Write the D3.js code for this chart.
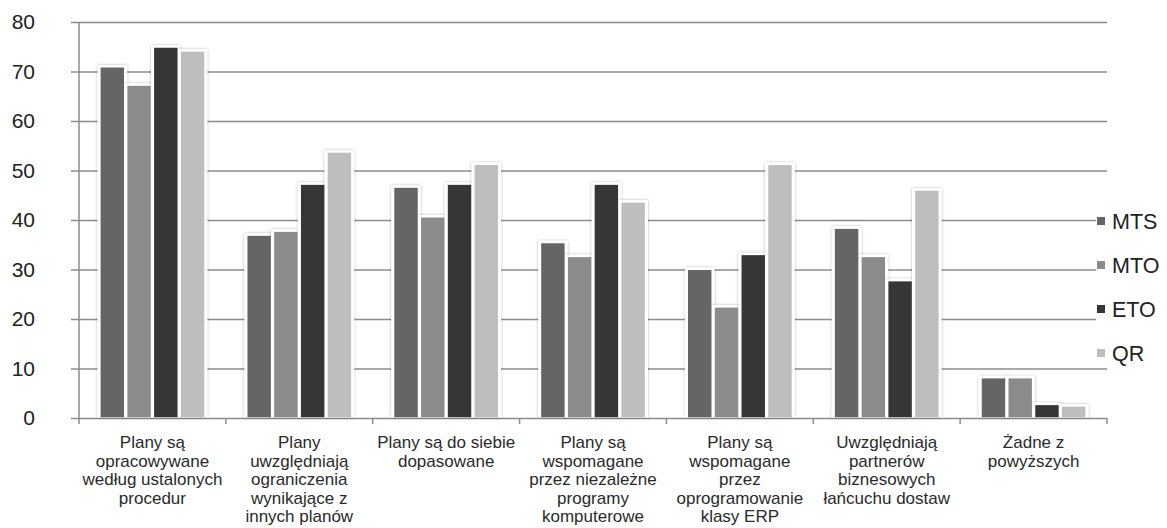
<!DOCTYPE html>
<html>
<head>
<meta charset="utf-8">
<script src="https://cdn.jsdelivr.net/npm/d3@7/dist/d3.min.js"></script>
<style>
  html, body { margin: 0; padding: 0; background: #fff; }
  svg { display: block; font-family: "Liberation Sans", Arial, sans-serif; }
</style>
</head>
<body>
<svg id="chart" width="1167" height="528"></svg>
<script>
// Category labels, already broken into lines
const categories = [
  ["Plany są", "opracowywane", "według ustalonych", "procedur"],
  ["Plany", "uwzględniają", "ograniczenia", "wynikające z", "innych planów"],
  ["Plany są do siebie", "dopasowane"],
  ["Plany są", "wspomagane", "przez niezależne", "programy", "komputerowe"],
  ["Plany są", "wspomagane", "przez", "oprogramowanie", "klasy ERP"],
  ["Uwzględniają", "partnerów", "biznesowych", "łańcuchu dostaw"],
  ["Żadne z", "powyższych"]
];

const seriesNames = ["MTS", "MTO", "ETO", "QR"];

const MTS = [70.8, 36.8, 46.5, 35.3, 29.9, 38.2, 8.0];
const MTO = [67.1, 37.6, 40.5, 32.5, 22.3, 32.5, 8.0];
const ETO = [74.8, 47.1, 47.1, 47.1, 32.9, 27.6, 2.6];
const QR  = [74.0, 53.6, 51.1, 43.5, 51.1, 45.9, 2.3];

const yTicks = [0, 10, 20, 30, 40, 50, 60, 70, 80];

const seriesValues = [MTS, MTO, ETO, QR];
const colors = ["#656565", "#8b8b8b", "#363636", "#bebebe"];

const svg = d3.select("#chart");

const plot = { left: 79, right: 1107, top: 22, bottom: 418 };

const y = d3.scaleLinear().domain([0, 80]).range([plot.bottom, plot.top]);
const x0 = d3.scaleBand()
  .domain(d3.range(categories.length))
  .range([plot.left, plot.right])
  .padding(0);
const x1 = d3.scaleBand()
  .domain(seriesNames)
  .range([21, x0.bandwidth() - 21])
  .paddingInner(0.08);

// Soft grey halo behind each bar
const defs = svg.append("defs");
const f = defs.append("filter").attr("id", "glow")
  .attr("x", "-40%").attr("y", "-10%").attr("width", "180%").attr("height", "120%");
f.append("feGaussianBlur").attr("in", "SourceAlpha").attr("stdDeviation", 1.8).attr("result", "b");
f.append("feComponentTransfer").attr("in", "b").attr("result", "s")
  .append("feFuncA").attr("type", "linear").attr("slope", 0.3);
const m = f.append("feMerge");
m.append("feMergeNode").attr("in", "s");
m.append("feMergeNode").attr("in", "SourceGraphic");

// Horizontal gridlines with tick labels (lines run from the tick stub to the right edge)
const yAxis = d3.axisLeft(y)
  .tickValues(yTicks)
  .tickSize(-(plot.right - plot.left + 8))
  .tickFormat(d3.format("d"));
const gy = svg.append("g")
  .attr("transform", `translate(${plot.left - 8},0)`)
  .call(yAxis);
gy.select(".domain").remove();
gy.selectAll(".tick line")
  .attr("stroke", "#8c8c8c").attr("stroke-width", 1.5);
gy.selectAll(".tick text")
  .attr("x", -36)
  .attr("text-anchor", "end")
  .attr("fill", "#222").attr("font-size", 21)
  .style("font-family", "'Liberation Sans', Arial, sans-serif");

// Vertical axis line
svg.append("line")
  .attr("x1", plot.left).attr("x2", plot.left)
  .attr("y1", y(80)).attr("y2", y(0))
  .attr("stroke", "#8c8c8c").attr("stroke-width", 1.5);

// Category boundary ticks
const bounds = d3.range(categories.length + 1).map(i => i === categories.length ? plot.right : x0(i));
svg.append("g").selectAll("line").data(bounds).join("line")
  .attr("x1", d => d).attr("x2", d => d)
  .attr("y1", y(0)).attr("y2", y(0) + 6)
  .attr("stroke", "#8c8c8c").attr("stroke-width", 1.5);

// Bars
const groups = svg.append("g").selectAll("g")
  .data(categories.map((c, i) => i))
  .join("g")
  .attr("transform", i => `translate(${x0(i)},0)`);

const barData = i => seriesNames.map((s, k) => ({ s, k, v: seriesValues[k][i] }));
const halo = 2.5;

// White outline that interrupts the gridlines around each bar
groups.selectAll("rect.halo")
  .data(barData)
  .join("rect")
  .attr("class", "halo")
  .attr("x", d => x1(d.s) - halo)
  .attr("y", d => y(d.v) - halo)
  .attr("width", x1.bandwidth() + 2 * halo)
  .attr("height", d => y(0) - y(d.v) + halo - 0.8)
  .attr("fill", "#fff")
  .attr("filter", "url(#glow)");

groups.selectAll("rect.bar")
  .data(barData)
  .join("rect")
  .attr("class", "bar")
  .attr("x", d => x1(d.s) + 0.6)
  .attr("y", d => y(d.v))
  .attr("width", x1.bandwidth() - 1.2)
  .attr("height", d => y(0) - y(d.v) - 0.8)
  .attr("fill", d => colors[d.k]);

// Category labels
const lab = svg.append("g").selectAll("text")
  .data(categories)
  .join("text")
  .attr("text-anchor", "middle")
  .attr("font-size", 17)
  .attr("fill", "#2a2a2a")
  .attr("x", (c, i) => x0(i) + x0.bandwidth() / 2)
  .attr("y", 448);
lab.selectAll("tspan")
  .data((c, i) => c.map(t => ({ t, cx: x0(i) + x0.bandwidth() / 2 })))
  .join("tspan")
  .attr("x", d => d.cx)
  .attr("dy", (d, j) => j === 0 ? 0 : 18.6)
  .text(d => d.t);

// Legend
const legendY = [221, 265, 309, 353];
const leg = svg.append("g").selectAll("g")
  .data(seriesNames)
  .join("g")
  .attr("transform", (d, k) => `translate(1097,${legendY[k]})`);
leg.append("rect")
  .attr("x", -1).attr("y", -14).attr("width", 72).attr("height", 28)
  .attr("fill", "#fff");
leg.append("rect")
  .attr("x", 0).attr("y", -4).attr("width", 8).attr("height", 8)
  .attr("fill", (d, k) => colors[k]);
leg.append("text")
  .attr("x", 15).attr("y", 7.5)
  .attr("font-size", 21.5)
  .attr("fill", "#222")
  .text(d => d);
</script>
</body>
</html>
